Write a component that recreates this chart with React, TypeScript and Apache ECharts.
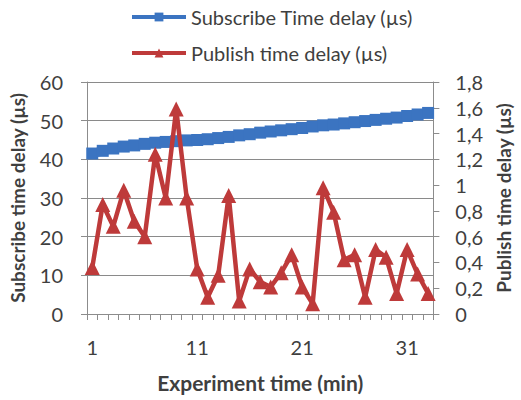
import React, { useEffect, useRef } from "react";
import * as echarts from "echarts";

const categories: string[] = Array.from({ length: 33 }, (_, i) => String(i + 1));

const subscribeDelay: number[] = [
  41.5, 42.2, 42.8, 43.3, 43.6, 44.0, 44.3, 44.5, 44.7, 44.9, 45.0,
  45.2, 45.5, 45.8, 46.2, 46.5, 46.9, 47.2, 47.5, 47.8, 48.1, 48.5,
  48.8, 49.0, 49.3, 49.6, 49.9, 50.2, 50.5, 50.8, 51.2, 51.6, 52.0,
];

const publishDelay: number[] = [
  0.36, 0.85, 0.68, 0.96, 0.72, 0.6, 1.24, 0.9, 1.59, 0.9, 0.35,
  0.13, 0.3, 0.92, 0.1, 0.35, 0.25, 0.21, 0.32, 0.46, 0.21, 0.08,
  0.98, 0.79, 0.42, 0.46, 0.13, 0.5, 0.44, 0.16, 0.5, 0.31, 0.16,
];

const SUB_NAME = "Subscribe Time delay (\u00b5s)";
const PUB_NAME = "Publish time delay (\u00b5s)";

const FONT = "Lato, 'Open Sans', sans-serif";
const BLUE = "#3b74c1";
const RED = "#be3a3a";
const AXIS_GRAY = "#8c8c8c";
const TEXT = "#3f3f3f";

export default function App() {
  const ref = useRef<HTMLDivElement>(null);

  useEffect(() => {
    if (!ref.current) return;
    const chart = echarts.init(ref.current, null, { renderer: "svg" });
    const legendCommon = {
      left: 125,
      itemWidth: 54,
      itemHeight: 11,
      itemGap: 4,
      lineStyle: { width: 4 },
      textStyle: { fontSize: 20, color: TEXT, fontFamily: FONT },
    };
    chart.setOption({
      animation: false,
      backgroundColor: "#ffffff",
      textStyle: { fontFamily: FONT },
      legend: [
        { ...legendCommon, data: [SUB_NAME], top: 2 },
        { ...legendCommon, data: [PUB_NAME], top: 38 },
      ],
      grid: { left: 86, right: 81, top: 82, bottom: 86 },
      xAxis: {
        type: "category",
        data: categories,
        boundaryGap: true,
        name: "Experiment time (min)",
        nameLocation: "middle",
        nameGap: 58,
        nameTextStyle: { fontSize: 21, fontWeight: "bold", color: TEXT, fontFamily: FONT },
        axisLine: { lineStyle: { color: AXIS_GRAY, width: 1 } },
        axisTick: { show: true, interval: 0, length: 6, lineStyle: { color: AXIS_GRAY } },
        axisLabel: {
          interval: (i: number) => i % 10 === 0,
          fontSize: 20,
          color: TEXT,
          margin: 23,
          fontFamily: FONT,
        },
      },
      yAxis: [
        {
          type: "value",
          min: 0,
          max: 60,
          interval: 10,
          name: "Subscribe time delay (\u00b5s)",
          nameLocation: "middle",
          nameGap: 60,
          nameRotate: 90,
          nameTextStyle: { fontSize: 19, fontWeight: "bold", color: TEXT, fontFamily: FONT },
          axisLine: { show: true, lineStyle: { color: AXIS_GRAY } },
          axisTick: { show: true, length: 6, lineStyle: { color: AXIS_GRAY } },
          axisLabel: { fontSize: 20, color: TEXT, margin: 24, fontFamily: FONT },
          splitLine: { show: true, lineStyle: { color: "#8a8a8a", width: 1 } },
        },
        {
          type: "value",
          min: 0,
          max: 1.8,
          interval: 0.2,
          position: "right",
          name: "Publish time delay (\u00b5s)",
          nameLocation: "middle",
          nameGap: 58,
          nameRotate: 90,
          nameTextStyle: { fontSize: 19, fontWeight: "bold", color: TEXT, fontFamily: FONT },
          axisLine: { show: true, lineStyle: { color: AXIS_GRAY } },
          axisTick: { show: true, length: 6, lineStyle: { color: AXIS_GRAY } },
          axisLabel: {
            fontSize: 20,
            color: TEXT,
            margin: 22,
            fontFamily: FONT,
            formatter: (v: number) => String(Math.round(v * 10) / 10).replace(".", ","),
          },
          splitLine: { show: false },
        },
      ],
      series: [
        {
          name: SUB_NAME,
          type: "line",
          yAxisIndex: 0,
          data: subscribeDelay,
          symbol: "rect",
          symbolSize: 12,
          showAllSymbol: true,
          itemStyle: { color: BLUE },
          lineStyle: { color: BLUE, width: 9 },
          z: 2,
        },
        {
          name: PUB_NAME,
          type: "line",
          yAxisIndex: 1,
          data: publishDelay,
          symbol: "triangle",
          symbolSize: 15,
          showAllSymbol: true,
          itemStyle: { color: RED },
          lineStyle: { color: RED, width: 4.5 },
          z: 3,
        },
      ],
    });
    return () => chart.dispose();
  }, []);

  return (
    <div
      ref={ref}
      style={{ position: "fixed", left: 0, top: 0, width: 521, height: 400 }}
    />
  );
}
